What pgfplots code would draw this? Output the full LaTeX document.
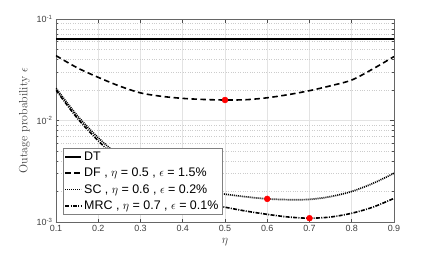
\documentclass[border=0pt]{standalone}
\usepackage{pgfplots}
\pgfplotsset{compat=1.18}
\usepackage{fontspec}
\newfontfamily\hv{Liberation Sans}
\begin{document}
\begin{tikzpicture}
\useasboundingbox (-56bp,-31bp) rectangle (380bp,222bp);
\begin{axis}[
  at={(0,0)}, anchor=south west,
  width=338bp, height=203bp, scale only axis,
  ymode=log,
  xmin=0.1, xmax=0.9, ymin=1e-3, ymax=1e-1,
  xtick={0.1,0.2,0.3,0.4,0.5,0.6,0.7,0.8,0.9},
  xticklabels={0.1,0.2,0.3,0.4,0.5,0.6,0.7,0.8,0.9},
  ytick={0.001,0.01,0.1},
  yticklabels={10\textsuperscript{-3},10\textsuperscript{-2},10\textsuperscript{-1}},
  minor x tick num=0,
  grid=both,
  major grid style={gray!22, line width=0.5pt},
  minor grid style={gray!40, dotted, line width=0.5pt},
  tick align=inside,
  major tick length=3.5bp, minor tick length=2bp,
  tick style={black!70, line width=0.5pt},
  axis line style={black!60, line width=0.6pt},
  ticklabel style={font=\hv\fontsize{9}{10}\selectfont, text=black!75},
  xlabel={$\eta$}, ylabel={Outage probability $\epsilon$},
  xlabel style={font=\fontsize{12}{13}\selectfont, text=black!75},
  ylabel style={font=\fontsize{12}{13}\selectfont, text=black!75},
  legend style={at={(0.02,0.035)}, anchor=south west, draw=black!50, line width=0.6pt,
    font=\hv\fontsize{12.5}{14}\selectfont, inner sep=1.5pt, row sep=2.3pt,
    /tikz/every even column/.append style={column sep=1pt}},
  legend cell align=left,
  legend image code/.code={\draw[#1] (0bp,0bp) -- (16bp,0bp);},
]
\addplot[black, line width=1.7pt] coordinates {(0.1,0.0631) (0.9,0.0631)};
\addlegendentry{DT}
\addplot[black, line width=1.6pt, dash pattern=on 5.5bp off 3.5bp, smooth] coordinates {
(0.10,0.04355) (0.15,0.03311) (0.20,0.02661) (0.25,0.02188) (0.30,0.01871)
(0.35,0.01730) (0.40,0.01652) (0.45,0.01611) (0.50,0.01592) (0.55,0.01603)
(0.60,0.01675) (0.65,0.01799) (0.70,0.01968) (0.75,0.02198) (0.80,0.02506)
(0.85,0.03221) (0.90,0.04266)};
\addlegendentry{DF , $\eta$ = 0.5 , $\epsilon$ = 1.5\%}
\addplot[black, line width=1.7pt, dash pattern=on 1bp off 1bp, smooth] coordinates {
(0.10,0.02080) (0.15,0.01122) (0.20,0.00676) (0.25,0.00447) (0.30,0.00324)
(0.35,0.00257) (0.40,0.00219) (0.45,0.00200) (0.50,0.00188) (0.55,0.00177)
(0.60,0.00169) (0.65,0.00166) (0.70,0.00167) (0.75,0.00178) (0.80,0.00200)
(0.85,0.00240) (0.90,0.00302)};
\addlegendentry{SC , $\eta$ = 0.6 , $\epsilon$ = 0.2\%}
\addplot[black, line width=1.6pt, dash pattern=on 4bp off 1.3bp on 1bp off 1.3bp, smooth] coordinates {
(0.10,0.01995) (0.15,0.01059) (0.20,0.00631) (0.25,0.00398) (0.30,0.00275)
(0.35,0.00214) (0.40,0.00178) (0.45,0.00155) (0.50,0.00140) (0.55,0.00128)
(0.60,0.00119) (0.65,0.00112) (0.70,0.00109) (0.75,0.00112) (0.80,0.00122)
(0.85,0.00140) (0.90,0.00171)};
\addlegendentry{MRC , $\eta$ = 0.7 , $\epsilon$ = 0.1\%}
\addplot[only marks, mark=*, red, mark size=3pt, forget plot] coordinates {
(0.5,0.01592) (0.6,0.00169) (0.7,0.00109)};
\end{axis}
\end{tikzpicture}
\end{document}
